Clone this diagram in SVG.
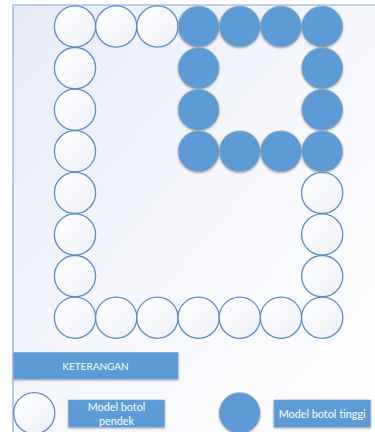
<svg xmlns="http://www.w3.org/2000/svg" width="375" height="432" viewBox="0 0 375 432">
<defs>
<linearGradient id="bg" x1="0" y1="0" x2="1" y2="1">
<stop offset="0" stop-color="#E6ECF7"/>
<stop offset="0.6" stop-color="#F8F9FD"/>
<stop offset="1" stop-color="#FFFFFF"/>
</linearGradient>
<linearGradient id="wf" x1="0" y1="0" x2="1" y2="1">
<stop offset="0" stop-color="#FFFFFF"/>
<stop offset="1" stop-color="#EEF1F8"/>
</linearGradient>
<filter id="sh" x="-20%" y="-20%" width="140%" height="140%">
<feGaussianBlur in="SourceAlpha" stdDeviation="0.8"/>
<feOffset dx="0" dy="0.6" result="b"/>
<feFlood flood-color="#7F7F7F" flood-opacity="0.7"/>
<feComposite in2="b" operator="in"/>
<feMerge><feMergeNode/><feMergeNode in="SourceGraphic"/></feMerge>
</filter>
</defs>
<style>
.w{fill:url(#wf);stroke:#5B8CC5;stroke-width:1.3}
.b{fill:#5B9BD5;stroke:#8CA3BE;stroke-width:0.8;filter:url(#sh)}
.box{fill:#5B9BD5;stroke:#7FA9D8;stroke-width:0.6;filter:url(#sh)}
.t{font-family:Lato,"Open Sans","Liberation Sans",sans-serif;font-size:10px;fill:#FFFFFF;text-anchor:middle}
.tl{font-size:10.8px}
</style>
<rect x="0" y="0" width="375" height="432" fill="#FFFFFF"/>
<rect x="13" y="5" width="362" height="427" fill="url(#bg)"/>
<path d="M13 432 V5 H375" fill="none" stroke="#86AAD6" stroke-width="1.2"/>
<g id="connectors"></g>
<g id="bottles-short">
<circle class="w" cx="75" cy="26.5" r="20.6"/>
<circle class="w" cx="116.2" cy="26.5" r="20.6"/>
<circle class="w" cx="157.4" cy="26.5" r="20.6"/>
<circle class="w" cx="75" cy="68.1" r="20.6"/>
<circle class="w" cx="75" cy="109.7" r="20.6"/>
<circle class="w" cx="75" cy="151.3" r="20.6"/>
<circle class="w" cx="75" cy="192.9" r="20.6"/>
<circle class="w" cx="75" cy="234.5" r="20.6"/>
<circle class="w" cx="75" cy="276.1" r="20.6"/>
<circle class="w" cx="322.2" cy="192.9" r="20.6"/>
<circle class="w" cx="322.2" cy="234.5" r="20.6"/>
<circle class="w" cx="322.2" cy="276.1" r="20.6"/>
<circle class="w" cx="75" cy="317.7" r="20.6"/>
<circle class="w" cx="116.2" cy="317.7" r="20.6"/>
<circle class="w" cx="157.4" cy="317.7" r="20.6"/>
<circle class="w" cx="198.6" cy="317.7" r="20.6"/>
<circle class="w" cx="239.8" cy="317.7" r="20.6"/>
<circle class="w" cx="281" cy="317.7" r="20.6"/>
<circle class="w" cx="322.2" cy="317.7" r="20.6"/>
</g>
<g id="bottles-tall">
<circle class="b" cx="198.6" cy="26.5" r="20.3"/>
<circle class="b" cx="239.8" cy="26.5" r="20.3"/>
<circle class="b" cx="281" cy="26.5" r="20.3"/>
<circle class="b" cx="322.2" cy="26.5" r="20.3"/>
<circle class="b" cx="198.6" cy="68.1" r="20.3"/>
<circle class="b" cx="322.2" cy="68.1" r="20.3"/>
<circle class="b" cx="198.6" cy="109.7" r="20.3"/>
<circle class="b" cx="322.2" cy="109.7" r="20.3"/>
<circle class="b" cx="198.6" cy="151.3" r="20.3"/>
<circle class="b" cx="239.8" cy="151.3" r="20.3"/>
<circle class="b" cx="281" cy="151.3" r="20.3"/>
<circle class="b" cx="322.2" cy="151.3" r="20.3"/>
</g>
<g id="keterangan">
<rect class="box" x="13.5" y="352.5" width="164.5" height="26.5"/>
<text class="t" x="95.5" y="369.5">KETERANGAN</text>
</g>
<g id="legend-short">
<circle class="w" cx="34.2" cy="413.2" r="20.6"/>
<rect class="box" x="68.5" y="400" width="96" height="27"/>
<text class="t tl" x="116.5" y="411">Model botol</text>
<text class="t tl" x="116.5" y="424.5">pendek</text>
</g>
<g id="legend-tall">
<circle class="b" cx="239.7" cy="413" r="20.3"/>
<rect class="box" x="274" y="400" width="96.5" height="27"/>
<text class="t tl" x="322.2" y="417.5">Model botol tinggi</text>
</g>
</svg>
